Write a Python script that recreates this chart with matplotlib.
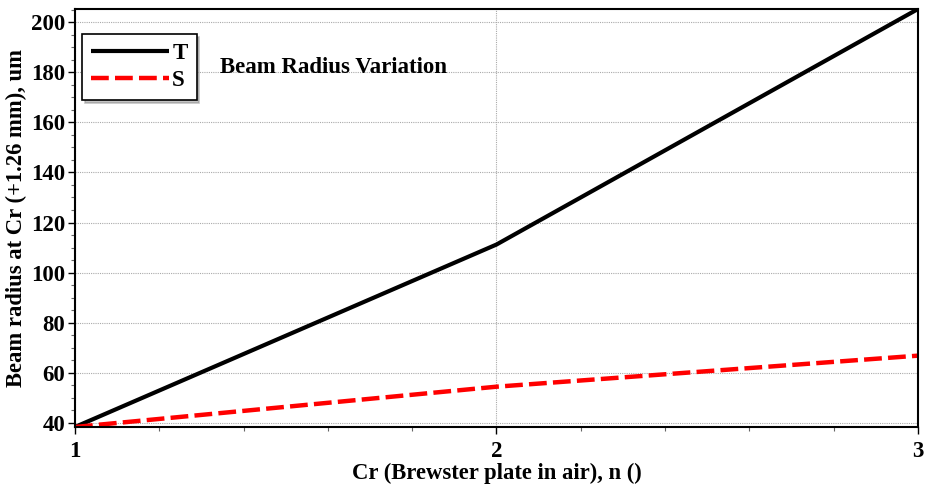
import matplotlib
matplotlib.use('Agg')
import matplotlib.pyplot as plt
from matplotlib.ticker import MultipleLocator

# data
n_vals = [1, 2, 3]
t_radius = [38.3, 111.2, 205.3]
s_radius = [38.3, 54.4, 66.8]

plt.rcParams['font.family'] = ['Liberation Serif', 'DejaVu Serif']
plt.rcParams['font.weight'] = 'bold'

fig = plt.figure(figsize=(9.25, 4.9), dpi=100)
ax = fig.add_axes([0.0811, 0.1286, 0.9113, 0.853])

ax.plot(n_vals, t_radius, color='black', lw=3, label='T', solid_capstyle='butt')
ax.plot(n_vals, s_radius, color='red', lw=3.2, ls=(0, (4, 1.4)), label='S')

ax.set_xlim(1, 3)
ax.set_ylim(38.3, 205.3)
ax.xaxis.set_major_locator(MultipleLocator(1))
ax.xaxis.set_minor_locator(MultipleLocator(0.2))
ax.yaxis.set_major_locator(MultipleLocator(20))
ax.yaxis.set_minor_locator(MultipleLocator(5))

ax.grid(True, which='major', color='#aaaaaa', ls=(0, (1, 1)), lw=0.8)
for sp in ax.spines.values():
    sp.set_linewidth(1.5)
ax.tick_params(which='major', direction='out', length=5, width=1, labelsize=16.5, pad=2)
ax.tick_params(axis='x', which='major', pad=5)
ax.tick_params(which='minor', direction='out', length=3, width=0.8, color='#666666')
for lab in ax.get_xticklabels() + ax.get_yticklabels():
    lab.set_fontweight('bold')

ax.set_xlabel('Cr (Brewster plate in air), n ()', fontsize=16.3, fontweight='bold', labelpad=1)
ax.set_ylabel('Beam radius at Cr (+1.26 mm), um', fontsize=16.3, fontweight='bold', labelpad=3)

ax.text(0.172, 0.861, 'Beam Radius Variation', transform=ax.transAxes,
        fontsize=16.5, fontweight='bold', va='center', ha='left')

leg = ax.legend(loc='upper left', bbox_to_anchor=(0.008, 0.94), frameon=True,
                fancybox=False, shadow={'color': '#888888'}, edgecolor='black',
                prop={'size': 16.5, 'weight': 'bold'}, handlelength=3.4,
                handletextpad=0.15, borderpad=0.4, labelspacing=0.25,
                borderaxespad=0)
leg.get_frame().set_linewidth(1.2)

fig.savefig('out.png', dpi=100)
